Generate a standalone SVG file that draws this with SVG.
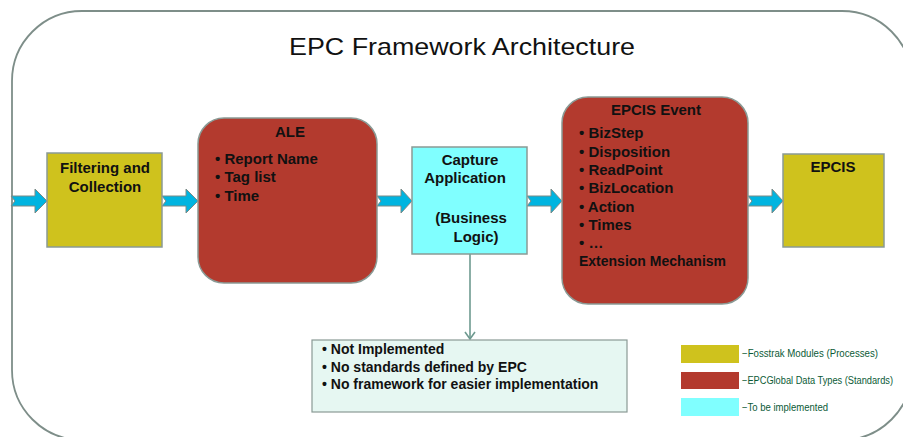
<svg xmlns="http://www.w3.org/2000/svg" width="903" height="437" viewBox="0 0 903 437">
<style>
.t{font-family:"Liberation Sans",Arial,sans-serif;font-weight:bold;font-size:15px;fill:#111}
.n{font-family:"Liberation Sans",Arial,sans-serif;font-weight:bold;font-size:14px;fill:#111}
.lg{font-family:"Liberation Sans",Arial,sans-serif;font-size:10px;fill:#0b5a36}
.box{stroke:#8a9a95;stroke-width:1.5}
.y{fill:#cfc21d}
.r{fill:#b33a2e}
.c{fill:#80ffff}
.arr{fill:#00b4e0;stroke:#7a8a86;stroke-width:1}
</style>
<defs>
<marker id="open" viewBox="0 0 12 12" refX="11" refY="6" markerWidth="12" markerHeight="12" markerUnits="userSpaceOnUse" orient="auto">
<path d="M4,1 L11,6 L4,11" fill="none" stroke="#6e9a90" stroke-width="1.6"/>
</marker>
</defs>
<rect x="12" y="11" width="900" height="429" rx="70" ry="70" fill="#fff" stroke="#7e8e89" stroke-width="1.8"/>
<text x="462" y="55" text-anchor="middle" font-family="Liberation Sans,Arial,sans-serif" font-size="24" fill="#111" textLength="346" lengthAdjust="spacingAndGlyphs">EPC Framework Architecture</text>

<g id="connectors">
<polygon class="arr" points="11,196 35,196 35,189 47,201 35,213 35,206 11,206 15,201"/>
<polygon class="arr" points="162,196 186,196 186,189 198,201 186,213 186,206 162,206 166,201"/>
<polygon class="arr" points="377,196 401,196 401,189 412,201 401,213 401,206 377,206 381,201"/>
<polygon class="arr" points="527,196 551,196 551,189 562,201 551,213 551,206 527,206 531,201"/>
<polygon class="arr" points="748,196 772,196 772,189 783,201 772,213 772,206 748,206 752,201"/>
<line x1="470" y1="254" x2="470" y2="339" stroke="#6e9a90" stroke-width="1.6" marker-end="url(#open)"/>
</g>

<g id="filtering">
<rect class="box y" x="47" y="153" width="115" height="94"/>
<text class="t" x="105" y="173" text-anchor="middle">Filtering and</text>
<text class="t" x="105" y="192" text-anchor="middle">Collection</text>
</g>

<g id="ale">
<rect class="box r" x="198" y="118" width="179" height="165" rx="26"/>
<text class="t" x="290" y="137" text-anchor="middle">ALE</text>
<text class="t" x="215" y="164">• Report Name</text>
<text class="t" x="215" y="182">• Tag list</text>
<text class="t" x="215" y="201">• Time</text>
</g>

<g id="capture">
<rect class="box c" x="412" y="147" width="115" height="107"/>
<text class="t" x="470" y="165" text-anchor="middle">Capture</text>
<text class="t" x="465" y="183" text-anchor="middle">Application</text>
<text class="t" x="471" y="223" text-anchor="middle">(Business</text>
<text class="t" x="476" y="242" text-anchor="middle">Logic)</text>
</g>

<g id="epcis-event">
<rect class="box r" x="562" y="97" width="186" height="207" rx="26"/>
<text class="t" x="656" y="115" text-anchor="middle">EPCIS Event</text>
<text class="t" x="579" y="138">• BizStep</text>
<text class="t" x="579" y="157">• Disposition</text>
<text class="t" x="579" y="175">• ReadPoint</text>
<text class="t" x="579" y="193">• BizLocation</text>
<text class="t" x="579" y="212">• Action</text>
<text class="t" x="579" y="230">• Times</text>
<text class="t" x="579" y="248">• …</text>
<text class="t" x="579" y="266" font-size="14" textLength="147" lengthAdjust="spacingAndGlyphs">Extension Mechanism</text>
</g>

<g id="epcis">
<rect class="box y" x="783" y="154" width="101" height="93"/>
<text class="t" x="833" y="172" text-anchor="middle">EPCIS</text>
</g>

<g id="notes">
<rect x="312" y="340" width="315" height="72" fill="#e6f7f2" stroke="#8a9a95" stroke-width="1.2"/>
<text class="n" x="322" y="354">• Not Implemented</text>
<text class="n" x="322" y="372">• No standards defined by EPC</text>
<text class="n" x="322" y="389">• No framework for easier implementation</text>
</g>

<g id="legend">
<rect x="681" y="345" width="58" height="18" class="y"/>
<rect x="681" y="372" width="58" height="17" class="r"/>
<rect x="681" y="398" width="58" height="18" class="c"/>
<text class="lg" x="742" y="357" textLength="136" lengthAdjust="spacingAndGlyphs">−Fosstrak Modules (Processes)</text>
<text class="lg" x="742" y="384" textLength="151" lengthAdjust="spacingAndGlyphs">−EPCGlobal Data Types (Standards)</text>
<text class="lg" x="742" y="411" textLength="86" lengthAdjust="spacingAndGlyphs">−To be implemented</text>
</g>
</svg>
